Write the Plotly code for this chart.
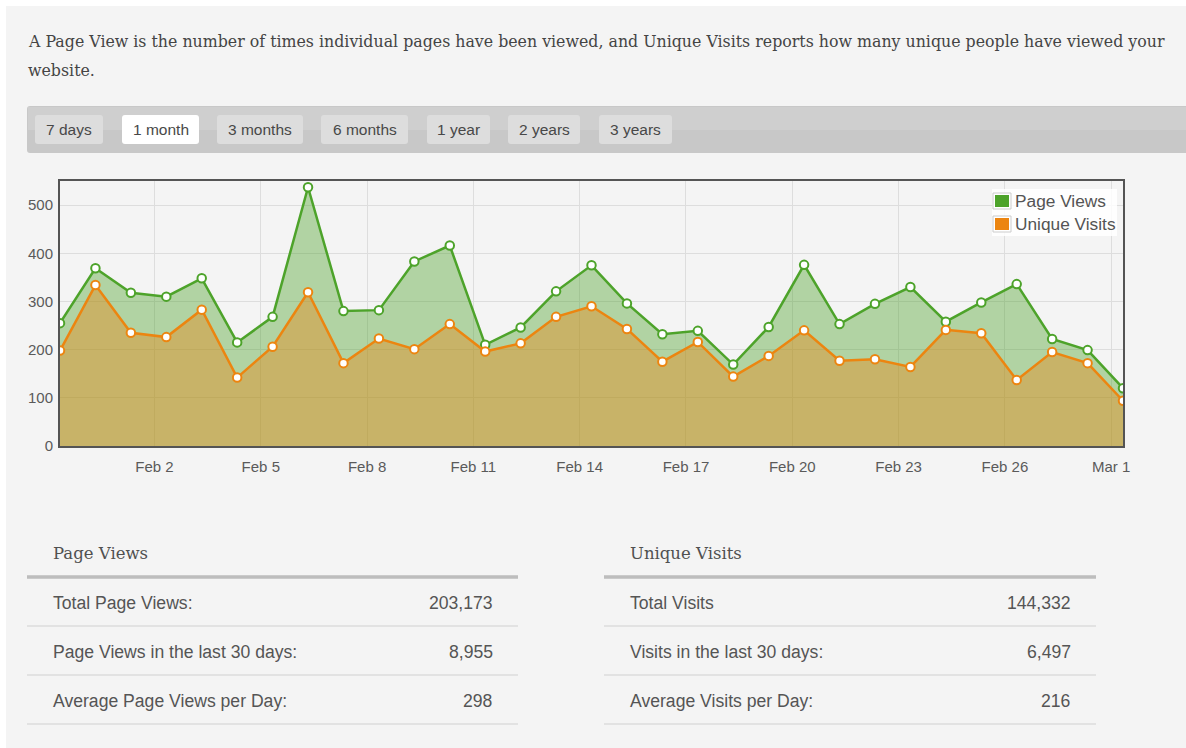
import plotly.graph_objects as go

# ---------------- data ----------------
dates = [
    "2015-01-30 08:00", "2015-01-31 08:00", "2015-02-01 08:00", "2015-02-02 08:00",
    "2015-02-03 08:00", "2015-02-04 08:00", "2015-02-05 08:00", "2015-02-06 08:00",
    "2015-02-07 08:00", "2015-02-08 08:00", "2015-02-09 08:00", "2015-02-10 08:00",
    "2015-02-11 08:00", "2015-02-12 08:00", "2015-02-13 08:00", "2015-02-14 08:00",
    "2015-02-15 08:00", "2015-02-16 08:00", "2015-02-17 08:00", "2015-02-18 08:00",
    "2015-02-19 08:00", "2015-02-20 08:00", "2015-02-21 08:00", "2015-02-22 08:00",
    "2015-02-23 08:00", "2015-02-24 08:00", "2015-02-25 08:00", "2015-02-26 08:00",
    "2015-02-27 08:00", "2015-02-28 08:00", "2015-03-01 08:00",
]
page_views = [255, 369, 318, 310, 348, 215, 268, 537, 280, 282, 383, 416, 210, 246, 321,
              375, 296, 232, 239, 169, 247, 376, 253, 295, 330, 258, 298, 336, 222, 199, 120]
unique_visits = [198, 334, 235, 226, 283, 142, 206, 319, 172, 223, 201, 253, 196, 213, 268,
                 290, 243, 175, 216, 144, 187, 240, 177, 180, 164, 241, 234, 137, 195, 172, 94]
series_names = ["Page Views", "Unique Visits"]
range_buttons = ["7 days", "1 month", "3 months", "6 months", "1 year", "2 years", "3 years"]
selected_button = "1 month"
intro_lines = [
    "A Page View is the number of times individual pages have been viewed, and Unique Visits reports how many unique people have viewed your",
    "website.",
]
pv_title = "Page Views"
pv_labels = ["Total Page Views:", "Page Views in the last 30 days:", "Average Page Views per Day:"]
pv_values = ["203,173", "8,955", "298"]
uv_title = "Unique Visits"
uv_labels = ["Total Visits", "Visits in the last 30 days:", "Average Visits per Day:"]
uv_values = ["144,332", "6,497", "216"]

# ---------------- styling ----------------
W, H = 1186, 748
L, R, T, B = 60, 1123, 181, 446     # plot area in pixels
GREEN = "#4da32a"
ORANGE = "#ec8510"
PAGE_BG = "#f4f4f4"
SANS = "Liberation Sans, Arial, sans-serif"
SERIF = "DejaVu Serif, serif"


def px(x):
    return (x - L) / (R - L)


def py(y):
    return (B - y) / (B - T)


def rrect(x0, y0, x1, y1, r=3):
    X0, X1 = px(x0), px(x1)
    Y0, Y1 = py(y0), py(y1)
    rx = r / (R - L)
    ry = r / (B - T)
    return (f"M{X0+rx},{Y0} L{X1-rx},{Y0} Q{X1},{Y0} {X1},{Y0-ry} "
            f"L{X1},{Y1+ry} Q{X1},{Y1} {X1-rx},{Y1} L{X0+rx},{Y1} Q{X0},{Y1} {X0},{Y1+ry} "
            f"L{X0},{Y0-ry} Q{X0},{Y0} {X0+rx},{Y0} Z")


fig = go.Figure()

fig.add_trace(go.Scatter(
    x=dates, y=page_views, name=series_names[0], mode="lines+markers",
    fill="tozeroy", fillcolor="rgba(77,163,42,0.4)",
    line=dict(color=GREEN, width=2.5),
    marker=dict(size=8.5, color="white", line=dict(color=GREEN, width=2)),
    showlegend=False,
))
fig.add_trace(go.Scatter(
    x=dates, y=unique_visits, name=series_names[1], mode="lines+markers",
    fill="tozeroy", fillcolor="rgba(236,133,16,0.4)",
    line=dict(color=ORANGE, width=2.5),
    marker=dict(size=8.5, color="white", line=dict(color=ORANGE, width=2)),
    showlegend=False,
))

shapes = []
annotations = []

# page background
shapes.append(dict(type="rect", xref="paper", yref="paper", layer="below",
                   x0=px(6), x1=px(W + 5), y0=py(6), y1=py(H + 5),
                   fillcolor=PAGE_BG, line=dict(width=0)))

# intro text
for i, line in enumerate(intro_lines):
    annotations.append(dict(xref="paper", yref="paper", x=px(26), y=py(42 + 28 * i),
                            xanchor="left", yanchor="middle", showarrow=False, text=line,
                            font=dict(family=SERIF, size=15.8, color="#444444")))

# button bar (two-tone to mimic the gradient)
shapes.append(dict(type="path", xref="paper", yref="paper", layer="below",
                   path=rrect(27, 106, W + 10, 153, 3),
                   fillcolor="#c8c8c8", line=dict(width=0)))
shapes.append(dict(type="rect", xref="paper", yref="paper", layer="below",
                   x0=px(28), x1=px(W + 10), y0=py(107), y1=py(130),
                   fillcolor="#cfcfcf", line=dict(width=0)))
btn_x = [(35, 103), (122, 199), (217, 303), (321, 408), (427, 490), (508, 580), (599, 672)]
for lab, (bx0, bx1) in zip(range_buttons, btn_x):
    shapes.append(dict(type="path", xref="paper", yref="paper", layer="below",
                       path=rrect(bx0, 115, bx1, 144, 3),
                       fillcolor="#ffffff" if lab == selected_button else "#dddddd",
                       line=dict(width=0)))
    annotations.append(dict(xref="paper", yref="paper", x=px((bx0 + bx1) / 2), y=py(129.5),
                            xanchor="center", yanchor="middle", showarrow=False, text=lab,
                            font=dict(family=SANS, size=15.5, color="#484848")))

# legend (drawn manually)
shapes.append(dict(type="rect", xref="paper", yref="paper",
                   x0=px(992), x1=px(1117), y0=py(189), y1=py(236),
                   fillcolor="rgba(255,255,255,0.85)", line=dict(width=0)))
for i, (nm, col) in enumerate(zip(series_names, [GREEN, ORANGE])):
    cy = 201 + 23 * i
    shapes.append(dict(type="rect", xref="paper", yref="paper",
                       x0=px(993), x1=px(1011), y0=py(cy - 8), y1=py(cy + 8),
                       fillcolor="#ffffff", line=dict(color="#cccccc", width=1)))
    shapes.append(dict(type="rect", xref="paper", yref="paper",
                       x0=px(995), x1=px(1009), y0=py(cy - 6), y1=py(cy + 6),
                       fillcolor=col, line=dict(width=0)))
    annotations.append(dict(xref="paper", yref="paper", x=px(1013), y=py(cy),
                            xanchor="left", yanchor="middle", showarrow=False, text=nm,
                            font=dict(family=SANS, size=17.3, color="#545454")))


# stats tables
def table(x0, x1, title, labels, values):
    annotations.append(dict(xref="paper", yref="paper", x=px(x0 + 24), y=py(553),
                            xanchor="left", yanchor="middle", showarrow=False, text=title,
                            font=dict(family=SERIF, size=16.5, color="#505050")))
    shapes.append(dict(type="line", xref="paper", yref="paper",
                       x0=px(x0), x1=px(x1), y0=py(577), y1=py(577),
                       line=dict(color="#bdbdbd", width=3.5)))
    for i, (lab, val) in enumerate(zip(labels, values)):
        cy = 603 + 49 * i
        annotations.append(dict(xref="paper", yref="paper", x=px(x0 + 24), y=py(cy),
                                xanchor="left", yanchor="middle", showarrow=False, text=lab,
                                font=dict(family=SANS, size=17.6, color="#555555")))
        annotations.append(dict(xref="paper", yref="paper", x=px(x1 - 23), y=py(cy),
                                xanchor="right", yanchor="middle", showarrow=False, text=val,
                                font=dict(family=SANS, size=17.6, color="#555555")))
        ly = 626 + 49 * i
        shapes.append(dict(type="line", xref="paper", yref="paper",
                           x0=px(x0), x1=px(x1), y0=py(ly), y1=py(ly),
                           line=dict(color="#dddddd", width=1.5)))


table(27, 518, pv_title, pv_labels, pv_values)
table(604, 1096, uv_title, uv_labels, uv_values)

fig.update_layout(
    width=W, height=H,
    margin=dict(l=L, r=W - R, t=T, b=H - B, pad=0),
    paper_bgcolor="#ffffff",
    plot_bgcolor=PAGE_BG,
    showlegend=False,
    shapes=shapes,
    annotations=annotations,
    xaxis=dict(
        type="date", range=[dates[0], dates[-1]],
        tick0="2015-02-02", dtick=3 * 86400000, tickformat="%b %-d",
        showgrid=True, gridcolor="#dddddd", gridwidth=1,
        showline=True, mirror=True, linecolor="#545454", linewidth=2,
        ticks="outside", ticklen=6, tickcolor="rgba(0,0,0,0)",
        tickfont=dict(family=SANS, size=15, color="#5a5a5a"),
        zeroline=False, fixedrange=True,
    ),
    yaxis=dict(
        range=[0, 550], dtick=100, tick0=0,
        showgrid=True, gridcolor="#dddddd", gridwidth=1,
        showline=True, mirror=True, linecolor="#545454", linewidth=2,
        ticks="outside", ticklen=2, tickcolor="rgba(0,0,0,0)",
        tickfont=dict(family=SANS, size=15, color="#5a5a5a"),
        zeroline=False, fixedrange=True,
    ),
)

fig.write_html("out.html", config={"displayModeBar": False},
               post_script="document.body.style.margin='0';")
